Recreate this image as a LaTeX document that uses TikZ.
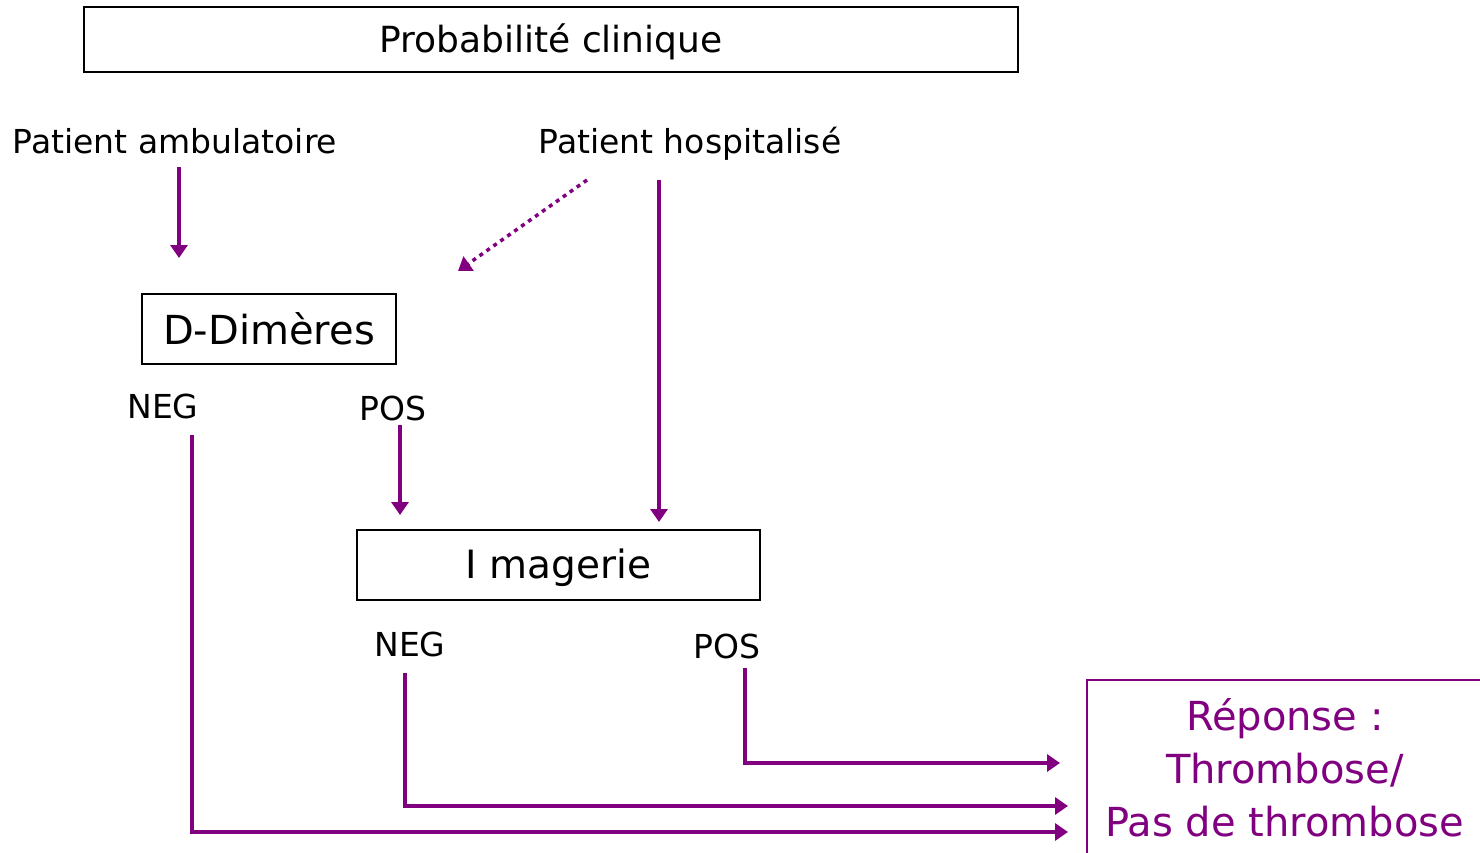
\documentclass[tikz,border=0pt]{standalone}
\usepackage{fontspec}
\setmainfont{DejaVu Sans}
\usetikzlibrary{arrows.meta}
\definecolor{flowpurple}{HTML}{800080}
\tikzset{
  box/.style={draw, line width=1.6pt, inner sep=0pt},
  lbl/.style={inner sep=0pt, font=\fontsize{33}{40}\selectfont},
  flow/.style={flowpurple, line width=3.5pt, -{Triangle[width=17pt,length=13pt]}},
  dotflow/.style={flow, dash pattern=on 4pt off 4.5pt},
  resp/.style={draw=flowpurple, text=flowpurple, line width=1.6pt, align=center,
    minimum width=396, minimum height=176, inner sep=0pt,
    font=\fontsize{40}{53}\selectfont},
}
\begin{document}
\begin{tikzpicture}[x=1pt, y=-1pt]
        \useasboundingbox (0,0) rectangle (1480,853);
        \clip (0,0) rectangle (1480,853);

        % nodes
        \node (proba) [box, minimum width=934, minimum height=65, font=\fontsize{36}{40}\selectfont] at (551,39.5) {\raisebox{-2.5pt}[\height][\depth]{Probabilité clinique}};
        \node (amb) [lbl] at (175,141) {Patient ambulatoire};
        \node (hosp) [lbl] at (690,144) {Patient hospitalisé};
        \node (ddim) [box, minimum width=254, minimum height=70, font=\fontsize{40}{44}\selectfont] at (269,329) {D-Dimères};
        \node (neg1) [lbl] at (163,406) {NEG};
        \node (pos1) [lbl] at (393,408) {POS};
        \node (imag) [box, minimum width=403, minimum height=70, font=\fontsize{39}{44}\selectfont] at (558.5,565) {\raisebox{-3pt}[\height][\depth]{I magerie}};
        \node (neg2) [lbl] at (410,644) {NEG};
        \node (pos2) [lbl] at (727,646) {POS};
        \node (rep) [resp, anchor=north west] at (1086,679) {Réponse :\\Thrombose/\\Pas de thrombose};

        % arrow ends
        \coordinate (ambS) at (179,167);
        \coordinate (ambE) at (179,258);
        \coordinate (hospD) at (587,180);
        \coordinate (hospDE) at (458,271);
        \coordinate (hospS) at (659,180);
        \coordinate (hospE) at (659,522);
        \coordinate (pos1S) at (400,425);
        \coordinate (pos1E) at (400,515);
        \coordinate (neg1S) at (192,435);
        \coordinate (neg1E) at (1068,832);
        \coordinate (neg2S) at (405,673);
        \coordinate (neg2E) at (1068,806);
        \coordinate (pos2S) at (745,668);
        \coordinate (pos2E) at (1060,763);

        % edges
        \draw[flow] (ambS) -- (ambE);
        \draw[dotflow] (hospD) -- (hospDE);
        \draw[flow] (hospS) -- (hospE);
        \draw[flow] (pos1S) -- (pos1E);
        \draw[flow] (neg1S) |- (neg1E);
        \draw[flow] (neg2S) |- (neg2E);
        \draw[flow] (pos2S) |- (pos2E);
    \end{tikzpicture}
\end{document}
